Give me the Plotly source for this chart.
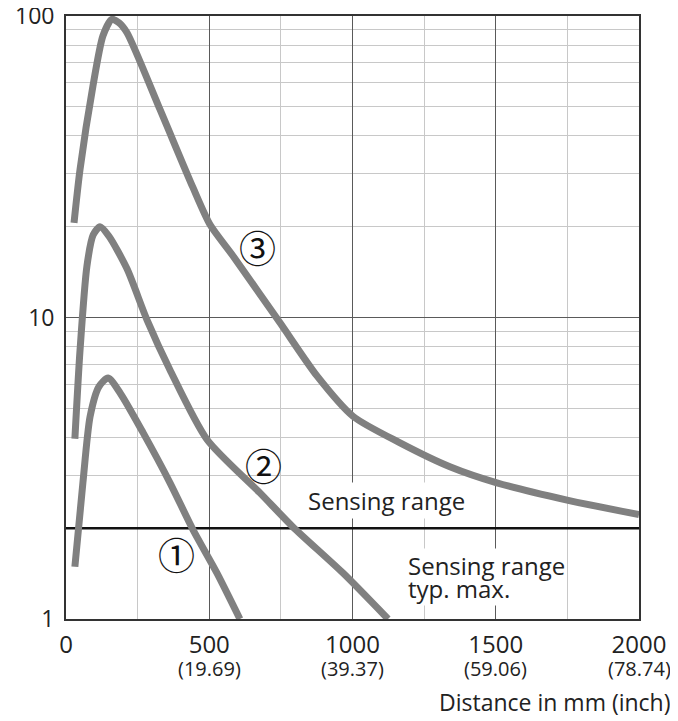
import math
import plotly.graph_objects as go

# Data
c1_x = [31, 59, 84, 115, 147, 190, 269, 363, 443, 527, 607]
c1_y = [1.49, 2.83, 4.69, 5.9, 6.3, 5.6, 4.15, 2.83, 1.98, 1.42, 1.0]

c2_x = [31, 49, 73, 95, 119, 150, 213, 283, 363, 492, 677, 792, 967, 1124]
c2_y = [3.96, 7.8, 14.8, 18.8, 20.0, 18.6, 14.5, 9.8, 6.7, 3.94, 2.62, 2.02, 1.42, 1.0]

c3_x = [28, 49, 94, 129, 160, 185, 213, 328, 443, 503, 583, 747, 876, 1002, 1166, 1340, 1504, 1749, 2000]
c3_y = [20.6, 31, 58.5, 86, 97.5, 95, 88, 49, 27, 20.3, 16.0, 9.6, 6.4, 4.7, 3.84, 3.2, 2.83, 2.48, 2.22]

sensing_limit = 2.0
x_range = [0, 2000]

x_ticks = [0, 500, 1000, 1500, 2000]
x_inch = ["", "(19.69)", "(39.37)", "(59.06)", "(78.74)"]
y_ticks = [1, 10, 100]
y_minor = [2, 3, 4, 5, 6, 7, 8, 9, 20, 30, 40, 50, 60, 70, 80, 90]

curve_labels = ["\u2460", "\u2461", "\u2462"]
label_x = [384, 688, 667]
label_y = [1.64, 3.24, 17.1]

FONT = "Open Sans"
TXT = "#222222"
CURVE_COLOR = "#808080"

fig = go.Figure()

# sensing range threshold line
fig.add_trace(go.Scatter(x=x_range, y=[sensing_limit, sensing_limit], mode="lines",
                         line=dict(color="#111111", width=2.5), hoverinfo="skip"))

for xs, ys in [(c1_x, c1_y), (c2_x, c2_y), (c3_x, c3_y)]:
    fig.add_trace(go.Scatter(x=xs, y=ys, mode="lines",
                             line=dict(color=CURVE_COLOR, width=7, shape="spline", smoothing=0.7)))

# the page body has an 8px margin, so the figure is sized to the visible area
fig.update_layout(
    width=670, height=713,
    margin=dict(l=58, r=39, t=8, b=102),
    paper_bgcolor="white", plot_bgcolor="white",
    showlegend=False,
    font=dict(family=FONT, color=TXT),
    xaxis=dict(
        range=x_range, tickmode="array", tickvals=x_ticks,
        ticktext=[str(v) for v in x_ticks],
        tickfont=dict(size=24, family=FONT, color=TXT),
        showgrid=True, gridcolor="#5a5a5a", gridwidth=1.4,
        minor=dict(dtick=250, showgrid=True, gridcolor="#c8c8c8", gridwidth=1.4),
        showline=True, linecolor="#333333", linewidth=1.8, mirror=True,
        ticks="", zeroline=False, ticklabelstandoff=3, automargin=False,
        ticklabeloverflow="allow",
    ),
    yaxis=dict(
        type="log", range=[0, 2], tickmode="array", tickvals=y_ticks,
        ticktext=[str(v) for v in y_ticks],
        tickfont=dict(size=23, family=FONT, color=TXT),
        showgrid=True, gridcolor="#5a5a5a", gridwidth=1.4,
        minor=dict(tickmode="array", tickvals=y_minor, showgrid=True,
                   gridcolor="#c8c8c8", gridwidth=1.4),
        showline=True, linecolor="#333333", linewidth=1.8, mirror=True,
        ticks="", zeroline=False, ticklabelstandoff=5, automargin=False,
        ticklabeloverflow="allow",
    ),
)

# inch equivalents under the mm tick labels
for v, inch in zip(x_ticks, x_inch):
    if inch:
        fig.add_annotation(x=v, y=-0.082, xref="x", yref="paper", text=inch,
                           showarrow=False, yanchor="middle",
                           font=dict(size=20, family=FONT, color=TXT))

for t, lx, ly in zip(curve_labels, label_x, label_y):
    fig.add_annotation(x=lx, y=math.log10(ly), xref="x", yref="y", text=t, showarrow=False,
                       font=dict(size=37, family="Noto Sans CJK JP", color="#111111"),
                       bgcolor="rgba(0,0,0,0)", borderpad=0)

fig.add_annotation(x=1120, y=math.log10(2.465), xref="x", yref="y", text="Sensing range",
                   showarrow=False, font=dict(size=24, family=FONT, color=TXT),
                   bgcolor="white", borderpad=1)
fig.add_annotation(x=1190, y=math.log10(1.26), xref="x", yref="y", xanchor="left",
                   text="typ. max.", align="left",
                   showarrow=False, font=dict(size=24, family=FONT, color=TXT),
                   bgcolor="white", borderpad=0)
fig.add_annotation(x=1190, y=math.log10(1.50), xref="x", yref="y", xanchor="left",
                   text="Sensing range", align="left",
                   showarrow=False, font=dict(size=24, family=FONT, color=TXT),
                   bgcolor="white", borderpad=0)

fig.add_annotation(x=1.059, y=-0.1376, xref="paper", yref="paper", xanchor="right",
                   yanchor="middle", text="Distance in mm (inch)", showarrow=False,
                   font=dict(size=23, family=FONT, color=TXT))

fig.write_html("out.html")
